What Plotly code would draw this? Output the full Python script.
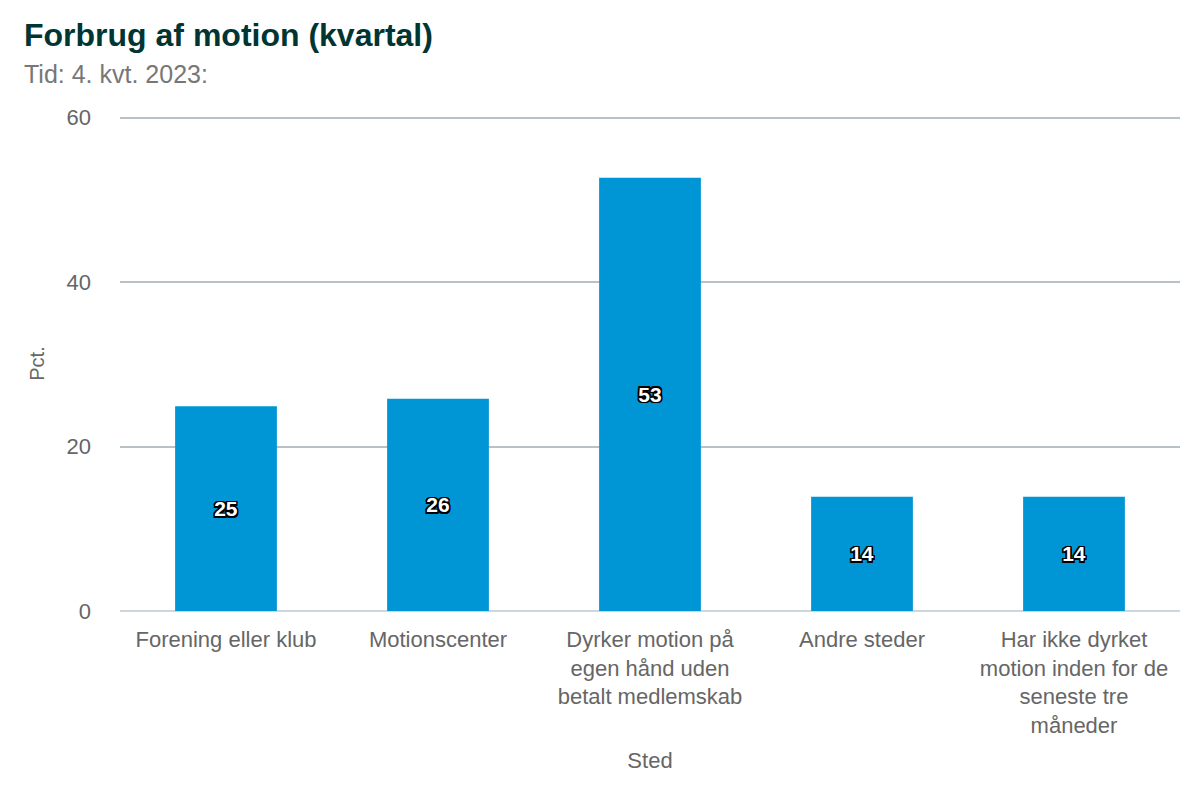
import plotly.graph_objects as go

categories = [
    "Forening eller klub",
    "Motionscenter",
    "Dyrker motion på<br>egen hånd uden<br>betalt medlemskab",
    "Andre steder",
    "Har ikke dyrket<br>motion inden for de<br>seneste tre<br>måneder",
]
values = [24.9, 25.8, 52.7, 13.9, 13.9]
y_ticks = [0, 20, 40, 60]

FONT = "Arial, Liberation Sans, sans-serif"
outline = ", ".join(
    f"{dx}px {dy}px 0 #000"
    for dx, dy in [(1.5, 1.5), (-1.5, -1.5), (1.5, -1.5), (-1.5, 1.5), (0, 1.5), (0, -1.5), (1.5, 0), (-1.5, 0)]
)

fig = go.Figure(
    go.Bar(
        x=categories,
        y=values,
        marker=dict(color="#0096D6", line=dict(width=0)),
        texttemplate="%{y:.0f}",
        textposition="inside",
        insidetextanchor="middle",
        textangle=0,
        textfont=dict(family=FONT, size=21, color="white", weight="bold", shadow=outline),
        hoverinfo="skip",
    )
)

fig.update_layout(
    width=1200,
    height=800,
    paper_bgcolor="white",
    plot_bgcolor="white",
    margin=dict(l=112, r=28, t=108, b=197, autoexpand=False),
    bargap=0.52,
    showlegend=False,
    font=dict(family=FONT, color="#666666"),
    xaxis=dict(
        tickfont=dict(size=22, color="#666666"),
        title=dict(text="Sted", font=dict(size=22, color="#666666"), standoff=15),
        showline=False,
        ticks="",
        ticklabelstandoff=13,
        automargin=False,
    ),
    yaxis=dict(
        range=[0, 60.2],
        tickvals=y_ticks,
        tickfont=dict(size=22, color="#666666"),
        title=dict(text="Pct.", font=dict(size=20, color="#666666"), standoff=16),
        gridcolor="#B8C2C6",
        gridwidth=1.5,
        zeroline=True,
        zerolinecolor="#CCD6DB",
        zerolinewidth=2,
        ticks="",
        ticklabelstandoff=28,
        automargin=False,
    ),
    annotations=[
        dict(
            text="<b>Forbrug af motion (kvartal)</b>",
            xref="paper", yref="paper",
            x=(22 - 120) / 1060, y=(611 - 35) / 495,
            xanchor="left", yanchor="middle",
            showarrow=False,
            font=dict(size=32, color="#003533", family=FONT),
        ),
        dict(
            text="Tid: 4. kvt. 2023:",
            xref="paper", yref="paper",
            x=(22 - 120) / 1060, y=(611 - 74) / 495,
            xanchor="left", yanchor="middle",
            showarrow=False,
            font=dict(size=25, color="#777777", family=FONT),
        ),
    ],
)

fig.write_html("out.html")
